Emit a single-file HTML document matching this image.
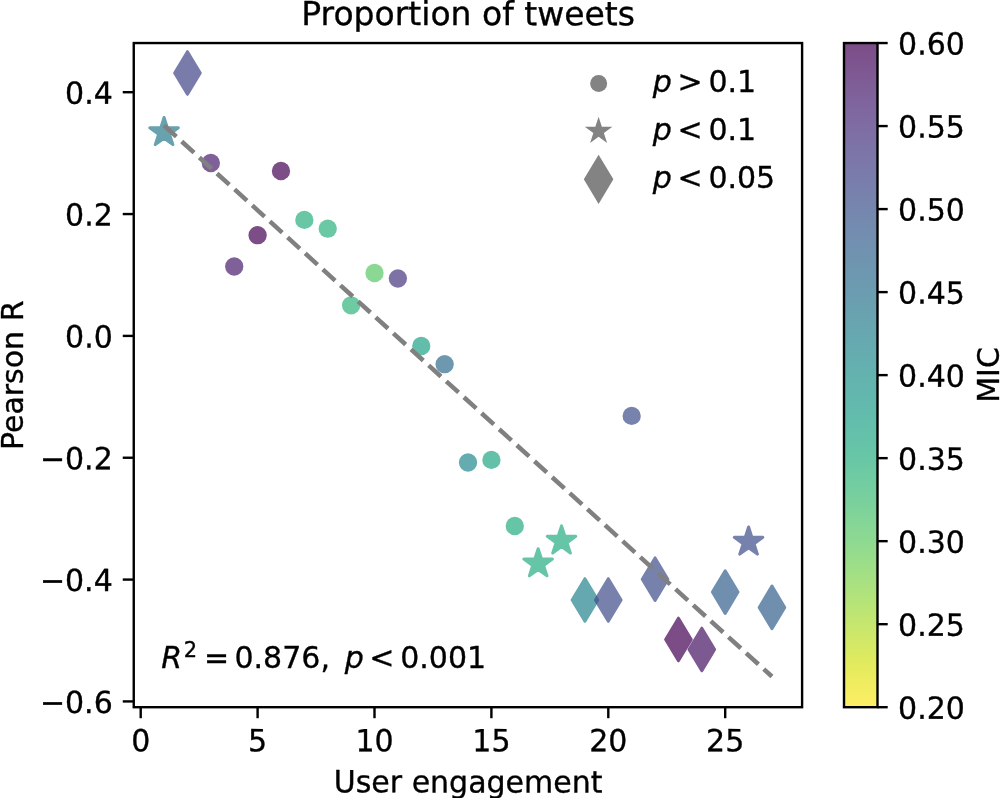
<!DOCTYPE html><html><head><meta charset="utf-8"><title>Proportion of tweets</title>
<style>html,body{margin:0;padding:0;background:#fff}svg{display:block}text{filter:grayscale(1)}text{font-family:"DejaVu Sans","Liberation Sans",sans-serif;fill:#000;stroke:#000;stroke-width:0.35px}</style></head><body>
<svg width="1000" height="798" viewBox="0 0 1000 798">
<rect width="1000" height="798" fill="#fff"/>
<defs><linearGradient id="cb" x1="0" y1="0" x2="0" y2="1"><stop offset="0.0000" stop-color="#440154"/><stop offset="0.0312" stop-color="#460b5e"/><stop offset="0.0625" stop-color="#48186a"/><stop offset="0.0938" stop-color="#482374"/><stop offset="0.1250" stop-color="#472d7b"/><stop offset="0.1562" stop-color="#453781"/><stop offset="0.1875" stop-color="#424086"/><stop offset="0.2188" stop-color="#3e4989"/><stop offset="0.2500" stop-color="#3b528b"/><stop offset="0.2812" stop-color="#375b8d"/><stop offset="0.3125" stop-color="#33638d"/><stop offset="0.3438" stop-color="#2f6b8e"/><stop offset="0.3750" stop-color="#2c728e"/><stop offset="0.4062" stop-color="#297a8e"/><stop offset="0.4375" stop-color="#26828e"/><stop offset="0.4688" stop-color="#23898e"/><stop offset="0.5000" stop-color="#21918c"/><stop offset="0.5312" stop-color="#1f988b"/><stop offset="0.5625" stop-color="#1fa088"/><stop offset="0.5938" stop-color="#22a785"/><stop offset="0.6250" stop-color="#28ae80"/><stop offset="0.6562" stop-color="#32b67a"/><stop offset="0.6875" stop-color="#3fbc73"/><stop offset="0.7188" stop-color="#4ec36b"/><stop offset="0.7500" stop-color="#5ec962"/><stop offset="0.7812" stop-color="#70cf57"/><stop offset="0.8125" stop-color="#84d44b"/><stop offset="0.8438" stop-color="#98d83e"/><stop offset="0.8750" stop-color="#addc30"/><stop offset="0.9062" stop-color="#c2df23"/><stop offset="0.9375" stop-color="#d8e219"/><stop offset="0.9688" stop-color="#ece51b"/><stop offset="1.0000" stop-color="#fde725"/></linearGradient></defs>
<circle cx="210.84" cy="163.00" r="9.15" fill="#481c6e" opacity="0.70"/>
<circle cx="234.22" cy="266.50" r="9.15" fill="#481c6e" opacity="0.70"/>
<circle cx="257.60" cy="235.20" r="9.15" fill="#440154" opacity="0.70"/>
<circle cx="280.98" cy="171.00" r="9.15" fill="#440154" opacity="0.70"/>
<circle cx="304.36" cy="219.90" r="9.15" fill="#29af7f" opacity="0.70"/>
<circle cx="327.74" cy="228.70" r="9.15" fill="#2cb17e" opacity="0.70"/>
<circle cx="351.12" cy="305.30" r="9.15" fill="#2fb47c" opacity="0.70"/>
<circle cx="374.50" cy="273.00" r="9.15" fill="#58c765" opacity="0.70"/>
<circle cx="397.88" cy="278.50" r="9.15" fill="#463480" opacity="0.70"/>
<circle cx="421.26" cy="346.00" r="9.15" fill="#1fa188" opacity="0.70"/>
<circle cx="444.64" cy="364.20" r="9.15" fill="#2f6c8e" opacity="0.70"/>
<circle cx="468.02" cy="462.50" r="9.15" fill="#23898e" opacity="0.70"/>
<circle cx="491.40" cy="459.90" r="9.15" fill="#21a685" opacity="0.70"/>
<circle cx="514.78" cy="526.00" r="9.15" fill="#25ab82" opacity="0.70"/>
<circle cx="631.68" cy="415.90" r="9.15" fill="#3d4e8a" opacity="0.70"/>
<path d="M164.08 117.50 L167.45 127.86 L178.35 127.86 L169.53 134.27 L172.90 144.64 L164.08 138.23 L155.26 144.64 L158.63 134.27 L149.81 127.86 L160.71 127.86Z" fill="#297b8e" stroke="#297b8e" stroke-width="3.0" stroke-linejoin="round" opacity="0.70"/>
<path d="M538.16 548.70 L541.53 559.06 L552.43 559.06 L543.61 565.47 L546.98 575.84 L538.16 569.43 L529.34 575.84 L532.71 565.47 L523.89 559.06 L534.79 559.06Z" fill="#26ad81" stroke="#26ad81" stroke-width="3.0" stroke-linejoin="round" opacity="0.70"/>
<path d="M561.54 525.90 L564.91 536.26 L575.81 536.26 L566.99 542.67 L570.36 553.04 L561.54 546.63 L552.72 553.04 L556.09 542.67 L547.27 536.26 L558.17 536.26Z" fill="#26ad81" stroke="#26ad81" stroke-width="3.0" stroke-linejoin="round" opacity="0.70"/>
<path d="M748.58 527.00 L751.95 537.36 L762.85 537.36 L754.03 543.77 L757.40 554.14 L748.58 547.73 L739.76 554.14 L743.13 543.77 L734.31 537.36 L745.21 537.36Z" fill="#3d4e8a" stroke="#3d4e8a" stroke-width="3.0" stroke-linejoin="round" opacity="0.70"/>
<path d="M187.46 51.70 L200.26 73.00 L187.46 94.30 L174.66 73.00Z" fill="#414487" stroke="#414487" stroke-width="3.0" stroke-linejoin="round" opacity="0.70"/>
<path d="M584.92 578.70 L597.72 600.00 L584.92 621.30 L572.12 600.00Z" fill="#25848e" stroke="#25848e" stroke-width="3.0" stroke-linejoin="round" opacity="0.70"/>
<path d="M608.30 578.70 L621.10 600.00 L608.30 621.30 L595.50 600.00Z" fill="#3e4c8a" stroke="#3e4c8a" stroke-width="3.0" stroke-linejoin="round" opacity="0.70"/>
<path d="M655.06 557.90 L667.86 579.20 L655.06 600.50 L642.26 579.20Z" fill="#3d4e8a" stroke="#3d4e8a" stroke-width="3.0" stroke-linejoin="round" opacity="0.70"/>
<path d="M678.44 618.20 L691.24 639.50 L678.44 660.80 L665.64 639.50Z" fill="#440154" stroke="#440154" stroke-width="3.0" stroke-linejoin="round" opacity="0.70"/>
<path d="M701.82 628.20 L714.62 649.50 L701.82 670.80 L689.02 649.50Z" fill="#471365" stroke="#471365" stroke-width="3.0" stroke-linejoin="round" opacity="0.70"/>
<path d="M725.20 570.80 L738.00 592.10 L725.20 613.40 L712.40 592.10Z" fill="#355f8d" stroke="#355f8d" stroke-width="3.0" stroke-linejoin="round" opacity="0.70"/>
<path d="M771.96 586.10 L784.76 607.40 L771.96 628.70 L759.16 607.40Z" fill="#355f8d" stroke="#355f8d" stroke-width="3.0" stroke-linejoin="round" opacity="0.70"/>
<line x1="164.08" y1="125.50" x2="771.96" y2="676.50" stroke="#808080" stroke-width="4.5" stroke-dasharray="16.62 7.185"/>
<rect x="133.75" y="43.05" width="668.35" height="664.15" fill="none" stroke="#000" stroke-width="2.4"/>
<line x1="140.70" y1="707.20" x2="140.70" y2="718.20" stroke="#000" stroke-width="2.4"/>
<text transform="translate(140.70,751.30) scale(1,1.015) rotate(0.03)" font-size="30" text-anchor="middle">0</text>
<line x1="257.60" y1="707.20" x2="257.60" y2="718.20" stroke="#000" stroke-width="2.4"/>
<text transform="translate(257.60,751.30) scale(1,1.015) rotate(0.03)" font-size="30" text-anchor="middle">5</text>
<line x1="374.50" y1="707.20" x2="374.50" y2="718.20" stroke="#000" stroke-width="2.4"/>
<text transform="translate(374.50,751.30) scale(1,1.015) rotate(0.03)" font-size="30" text-anchor="middle">10</text>
<line x1="491.40" y1="707.20" x2="491.40" y2="718.20" stroke="#000" stroke-width="2.4"/>
<text transform="translate(491.40,751.30) scale(1,1.015) rotate(0.03)" font-size="30" text-anchor="middle">15</text>
<line x1="608.30" y1="707.20" x2="608.30" y2="718.20" stroke="#000" stroke-width="2.4"/>
<text transform="translate(608.30,751.30) scale(1,1.015) rotate(0.03)" font-size="30" text-anchor="middle">20</text>
<line x1="725.20" y1="707.20" x2="725.20" y2="718.20" stroke="#000" stroke-width="2.4"/>
<text transform="translate(725.20,751.30) scale(1,1.015) rotate(0.03)" font-size="30" text-anchor="middle">25</text>
<line x1="122.75" y1="701.42" x2="133.75" y2="701.42" stroke="#000" stroke-width="2.4"/>
<text transform="translate(112.75,712.92) scale(1,1.015) rotate(0.03)" font-size="30" text-anchor="end">−0.6</text>
<line x1="122.75" y1="579.58" x2="133.75" y2="579.58" stroke="#000" stroke-width="2.4"/>
<text transform="translate(112.75,591.08) scale(1,1.015) rotate(0.03)" font-size="30" text-anchor="end">−0.4</text>
<line x1="122.75" y1="457.74" x2="133.75" y2="457.74" stroke="#000" stroke-width="2.4"/>
<text transform="translate(112.75,469.24) scale(1,1.015) rotate(0.03)" font-size="30" text-anchor="end">−0.2</text>
<line x1="122.75" y1="335.90" x2="133.75" y2="335.90" stroke="#000" stroke-width="2.4"/>
<text transform="translate(112.75,347.40) scale(1,1.015) rotate(0.03)" font-size="30" text-anchor="end">0.0</text>
<line x1="122.75" y1="214.06" x2="133.75" y2="214.06" stroke="#000" stroke-width="2.4"/>
<text transform="translate(112.75,225.56) scale(1,1.015) rotate(0.03)" font-size="30" text-anchor="end">0.2</text>
<line x1="122.75" y1="92.22" x2="133.75" y2="92.22" stroke="#000" stroke-width="2.4"/>
<text transform="translate(112.75,103.72) scale(1,1.015) rotate(0.03)" font-size="30" text-anchor="end">0.4</text>
<text transform="translate(468.10,25.10) scale(1,1.000) rotate(0.03)" font-size="33" text-anchor="middle">Proportion of tweets</text>
<text transform="translate(468.10,792.40) scale(1,1.015) rotate(0.03)" font-size="30" text-anchor="middle">User engagement</text>
<text transform="translate(23,375.3) rotate(-90)" font-size="30" text-anchor="middle">Pearson R</text>
<circle cx="598.65" cy="83.4" r="8.5" fill="#838383"/>
<path d="M598.60 116.80 L601.86 126.82 L612.39 126.82 L603.87 133.01 L607.12 143.03 L598.60 136.84 L590.08 143.03 L593.33 133.01 L584.81 126.82 L595.34 126.82Z" fill="#838383"/>
<path d="M598.60 154.70 L613.40 179.30 L598.60 203.90 L583.80 179.30Z" fill="#838383"/>
<text y="91.70" font-size="30"><tspan x="652.75" font-style="italic">p</tspan><tspan x="677.50">&gt;</tspan><tspan x="708.40">0.1</tspan></text>
<text y="140.00" font-size="30"><tspan x="652.75" font-style="italic">p</tspan><tspan x="677.50">&lt;</tspan><tspan x="708.40">0.1</tspan></text>
<text y="187.80" font-size="30"><tspan x="652.75" font-style="italic">p</tspan><tspan x="677.50">&lt;</tspan><tspan x="708.40">0.05</tspan></text>
<text y="668.0" font-size="30"><tspan x="161.25" font-style="italic">R</tspan><tspan x="183.8" dy="-11.3" font-size="21">2</tspan><tspan x="203.9" dy="11.3">=</tspan><tspan x="234.5">0.876,</tspan><tspan x="344.75" font-style="italic">p</tspan><tspan x="369.2">&lt;</tspan><tspan x="400.2">0.001</tspan></text>
<rect x="844.00" y="43.05" width="33.50" height="664.15" fill="url(#cb)" opacity="0.70"/>
<rect x="844.00" y="43.05" width="33.50" height="664.15" fill="none" stroke="#000" stroke-width="2.4"/>
<line x1="877.50" y1="707.20" x2="887.70" y2="707.20" stroke="#000" stroke-width="2.4"/>
<text transform="translate(898.10,718.70) scale(1,1.015) rotate(0.03)" font-size="30" text-anchor="start">0.20</text>
<line x1="877.50" y1="624.18" x2="887.70" y2="624.18" stroke="#000" stroke-width="2.4"/>
<text transform="translate(898.10,635.68) scale(1,1.015) rotate(0.03)" font-size="30" text-anchor="start">0.25</text>
<line x1="877.50" y1="541.16" x2="887.70" y2="541.16" stroke="#000" stroke-width="2.4"/>
<text transform="translate(898.10,552.66) scale(1,1.015) rotate(0.03)" font-size="30" text-anchor="start">0.30</text>
<line x1="877.50" y1="458.14" x2="887.70" y2="458.14" stroke="#000" stroke-width="2.4"/>
<text transform="translate(898.10,469.64) scale(1,1.015) rotate(0.03)" font-size="30" text-anchor="start">0.35</text>
<line x1="877.50" y1="375.12" x2="887.70" y2="375.12" stroke="#000" stroke-width="2.4"/>
<text transform="translate(898.10,386.62) scale(1,1.015) rotate(0.03)" font-size="30" text-anchor="start">0.40</text>
<line x1="877.50" y1="292.11" x2="887.70" y2="292.11" stroke="#000" stroke-width="2.4"/>
<text transform="translate(898.10,303.61) scale(1,1.015) rotate(0.03)" font-size="30" text-anchor="start">0.45</text>
<line x1="877.50" y1="209.09" x2="887.70" y2="209.09" stroke="#000" stroke-width="2.4"/>
<text transform="translate(898.10,220.59) scale(1,1.015) rotate(0.03)" font-size="30" text-anchor="start">0.50</text>
<line x1="877.50" y1="126.07" x2="887.70" y2="126.07" stroke="#000" stroke-width="2.4"/>
<text transform="translate(898.10,137.57) scale(1,1.015) rotate(0.03)" font-size="30" text-anchor="start">0.55</text>
<line x1="877.50" y1="43.05" x2="887.70" y2="43.05" stroke="#000" stroke-width="2.4"/>
<text transform="translate(898.10,54.55) scale(1,1.015) rotate(0.03)" font-size="30" text-anchor="start">0.60</text>
<text transform="translate(999.3,375.0) rotate(-90)" font-size="30" text-anchor="middle">MIC</text>
</svg></body></html>
